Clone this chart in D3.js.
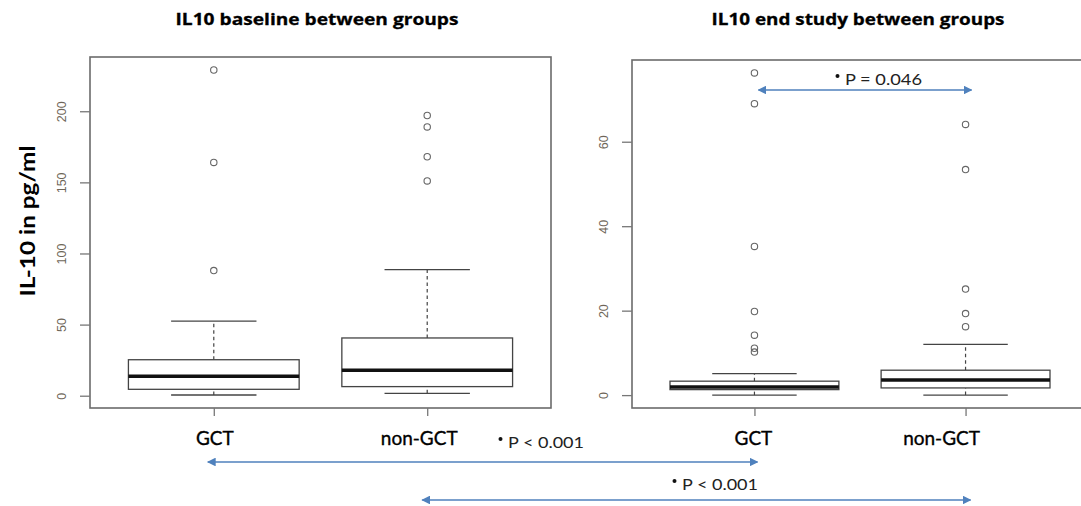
<!DOCTYPE html>
<html>
<head>
<meta charset="utf-8">
<script src="https://cdn.jsdelivr.net/npm/d3@7"></script>
<style>
  html, body { margin: 0; padding: 0; background: #fff; }
  svg { display: block; }
</style>
</head>
<body>
<div id="chart"></div>
<script>
// groups and five-number summaries [lower whisker, q1, median, q3, upper whisker]
var groups = ["GCT", "non-GCT"];

var baselineGCT = [0.5, 4.5, 13.7, 25.3, 52.4];
var baselineNonGCT = [1.7, 6.4, 17.9, 40.6, 88.6];
var baselineOutGCT = [229, 164, 88];
var baselineOutNonGCT = [197, 189, 168, 151];

var endGCT = [0, 1.3, 1.9, 3.3, 5.1];
var endNonGCT = [0, 1.7, 3.6, 5.9, 12.0];
var endOutGCT = [76.3, 69.0, 35.2, 19.8, 14.2, 11.1, 10.2];
var endOutNonGCT = [64.1, 53.4, 25.1, 19.3, 16.2];

var baselineTicks = [0, 50, 100, 150, 200];
var endTicks = [0, 20, 40, 60];

var titles = ["IL10 baseline between groups", "IL10 end study between groups"];
var yLabel = "IL-10 in pg/ml";
var pLabels = ["P = 0.046", "P < 0.001", "P < 0.001"];

var width = 1081, height = 506;
var blue = "#4f81bd";

var svg = d3.select("#chart")
  .append("svg")
  .attr("width", width)
  .attr("height", height)
  .style("font-family", "Lato, 'Open Sans', sans-serif");

svg.append("rect").attr("width", width).attr("height", height).attr("fill", "#fff");

var defs = svg.append("defs");
defs.append("marker")
  .attr("id", "head")
  .attr("viewBox", "0 0 10 10")
  .attr("refX", 9).attr("refY", 5)
  .attr("markerWidth", 5.5).attr("markerHeight", 5.5)
  .attr("markerUnits", "strokeWidth")
  .attr("orient", "auto-start-reverse")
  .append("path")
  .attr("d", "M0,0L10,5L0,10z")
  .attr("fill", blue);

// one R-style boxplot panel
function drawPanel(p) {
  var lo = d3.min(p.stats.map(s => s[0]).concat(d3.merge(p.outliers)));
  var hi = d3.max(p.stats.map(s => s[4]).concat(d3.merge(p.outliers)));
  var pad = (hi - lo) * 0.04;

  var x = d3.scaleLinear().domain([0.42, 2.58]).range([p.left, p.right]);
  var y = d3.scaleLinear().domain([lo - pad, hi + pad]).range([p.bottom, p.top]);

  var g = svg.append("g");

  // frame
  g.append("rect")
    .attr("x", p.left).attr("y", p.top)
    .attr("width", p.right - p.left).attr("height", p.bottom - p.top)
    .attr("fill", "none").attr("stroke", "#6b6b6b").attr("stroke-width", 1.6);

  // y axis
  var yAxis = g.append("g")
    .attr("transform", `translate(${p.left},0)`)
    .call(d3.axisLeft(y).tickValues(p.ticks).tickSize(10).tickPadding(0).tickFormat(d3.format("d")));
  yAxis.select(".domain").remove();
  yAxis.selectAll(".tick line").attr("stroke", "#777").attr("stroke-width", 1.3);
  yAxis.selectAll(".tick text")
    .attr("transform", "rotate(-90)")
    .attr("x", 0).attr("y", -24)
    .attr("dy", 0)
    .attr("text-anchor", "middle")
    .attr("fill", "#6e6658")
    .style("font-family", "Arial, 'Liberation Sans', sans-serif")
    .style("font-size", "12.5px");

  // x axis ticks
  var xAxis = g.append("g")
    .attr("transform", `translate(0,${p.bottom})`)
    .call(d3.axisBottom(x).tickValues([1, 2]).tickSize(8).tickFormat(""));
  xAxis.select(".domain").remove();
  xAxis.selectAll(".tick line").attr("stroke", "#777").attr("stroke-width", 1.3);

  p.stats.forEach(function(s, i) {
    var cx = x(i + 1);
    var bw = x(1.4) - x(1);
    var sw = x(1.2) - x(1);
    var bg = g.append("g");

    // whiskers
    bg.selectAll("line.whisk")
      .data([[s[3], s[4]], [s[0], s[1]]])
      .enter().append("line")
      .attr("x1", cx).attr("x2", cx)
      .attr("y1", d => y(d[0])).attr("y2", d => y(d[1]))
      .attr("stroke", "#444").attr("stroke-width", 1.2)
      .attr("stroke-dasharray", "3.5,3");

    bg.selectAll("line.staple")
      .data([s[0], s[4]])
      .enter().append("line")
      .attr("x1", cx - sw).attr("x2", cx + sw)
      .attr("y1", d => y(d)).attr("y2", d => y(d))
      .attr("stroke", "#444").attr("stroke-width", 1.3);

    // box
    bg.append("rect")
      .attr("x", cx - bw).attr("width", bw * 2)
      .attr("y", y(s[3])).attr("height", y(s[1]) - y(s[3]))
      .attr("fill", "#fff").attr("stroke", "#444").attr("stroke-width", 1.3);

    bg.append("line")
      .attr("x1", cx - bw).attr("x2", cx + bw)
      .attr("y1", y(s[2])).attr("y2", y(s[2]))
      .attr("stroke", "#111").attr("stroke-width", 3.5);

    // outliers
    bg.selectAll("circle")
      .data(p.outliers[i])
      .enter().append("circle")
      .attr("cx", cx).attr("cy", d => y(d))
      .attr("r", 3.2)
      .attr("fill", "none").attr("stroke", "#666").attr("stroke-width", 1.1);

    // category label
    g.append("text")
      .attr("x", cx + p.labelShift[i]).attr("y", 445)
      .attr("text-anchor", "middle")
      .style("font-size", "19px")
      .attr("fill", "#000")
      .attr("stroke", "#000").attr("stroke-width", 0.35)
      .text(groups[i]);
  });

  // title
  svg.append("text")
    .attr("x", p.titleX).attr("y", 25)
    .attr("text-anchor", "middle")
    .attr("textLength", p.titleLen).attr("lengthAdjust", "spacingAndGlyphs")
    .style("font-family", "'Open Sans', sans-serif")
    .style("font-weight", "bold")
    .style("font-size", "16px")
    .attr("fill", "#000")
    .attr("stroke", "#000").attr("stroke-width", 0.3)
    .text(p.title);

  return x;
}

var xBase = drawPanel({
  stats: [baselineGCT, baselineNonGCT],
  outliers: [baselineOutGCT, baselineOutNonGCT],
  ticks: baselineTicks,
  left: 90, right: 551, top: 57, bottom: 408,
  labelShift: [1, -8],
  title: titles[0], titleX: 317, titleLen: 283
});

var xEnd = drawPanel({
  stats: [endGCT, endNonGCT],
  outliers: [endOutGCT, endOutNonGCT],
  ticks: endTicks,
  left: 632, right: 1088, top: 60, bottom: 408,
  labelShift: [-1, -24],
  title: titles[1], titleX: 858, titleLen: 293
});

// y label
svg.append("text")
  .attr("transform", "translate(35,221) rotate(-90)")
  .attr("text-anchor", "middle")
  .attr("textLength", 151).attr("lengthAdjust", "spacingAndGlyphs")
  .style("font-size", "20px")
  .style("font-weight", "bold")
  .attr("fill", "#000")
  .text(yLabel);

// significance arrows
var arrows = [
  { x1: xEnd(1) + 4, x2: xEnd(2) + 6, y: 90, label: pLabels[0], lx: 835, ly: 85, len: 87 },
  { x1: xBase(1) - 6, x2: xEnd(1) + 3, y: 462, label: pLabels[1], lx: 498, ly: 448, len: 86 },
  { x1: xBase(2) - 5, x2: xEnd(2) + 5, y: 500, label: pLabels[2], lx: 672, ly: 490, len: 86 }
];

svg.selectAll("line.arrow")
  .data(arrows)
  .enter().append("line")
  .attr("class", "arrow")
  .attr("x1", d => d.x1).attr("x2", d => d.x2)
  .attr("y1", d => d.y).attr("y2", d => d.y)
  .attr("stroke", blue).attr("stroke-width", 1.6)
  .attr("marker-start", "url(#head)")
  .attr("marker-end", "url(#head)");

var lab = svg.selectAll("g.plab")
  .data(arrows)
  .enter().append("g")
  .attr("class", "plab");

lab.append("circle")
  .attr("cx", d => d.lx + 2.5).attr("cy", d => d.ly - 9)
  .attr("r", 2).attr("fill", "#111");

lab.append("text")
  .attr("x", d => d.lx + 10).attr("y", d => d.ly)
  .attr("textLength", d => d.len - 10).attr("lengthAdjust", "spacingAndGlyphs")
  .style("font-size", "15px")
  .attr("fill", "#222")
  .text(d => d.label);
</script>
</body>
</html>
